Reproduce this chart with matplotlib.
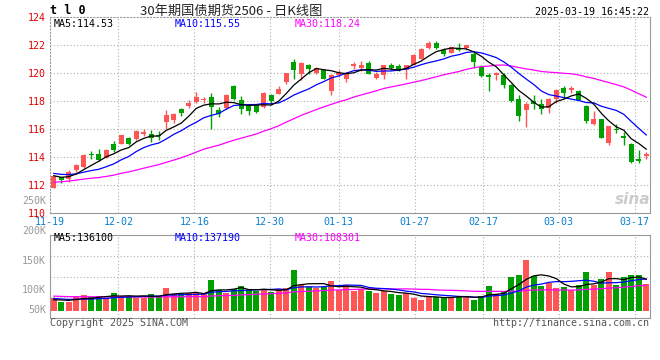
import matplotlib
import numpy as np

matplotlib.use("Agg")
import matplotlib.pyplot as plt

plt.rcParams["font.family"] = ["DejaVu Sans Mono"]

# daily K data, 2024-11-19 .. 2025-03-19
opens = [111.80, 112.57, 112.40, 113.05, 113.29, 114.21, 114.24, 113.93, 114.95, 114.95,
         115.38, 115.26, 115.65, 115.67, 115.55, 116.48, 116.62, 117.40, 117.64, 117.90,
         118.10, 118.29, 117.38, 117.50, 119.07, 118.10, 117.64, 117.69, 117.57, 118.45,
         118.52, 119.36, 120.79, 119.95, 120.60, 120.00, 120.19, 118.69, 119.83, 119.60,
         120.50, 120.38, 120.74, 119.67, 119.83, 120.55, 120.48, 120.19, 120.60, 121.02,
         121.81, 122.17, 121.67, 121.43, 121.76, 121.81, 121.38, 120.45, 119.83, 119.83,
         119.88, 119.12, 118.17, 117.33, 118.00, 117.81, 117.50, 118.12, 118.95, 118.81,
         118.71, 117.64, 116.33, 116.69, 115.00, 116.02, 115.48, 114.95, 113.88, 114.07]
highs = [112.65, 112.60, 113.05, 113.52, 114.24, 114.45, 114.60, 114.55, 115.12, 115.60,
         115.43, 115.90, 116.02, 115.90, 115.83, 117.33, 117.17, 117.52, 118.05, 118.67,
         118.29, 118.60, 117.57, 118.48, 119.17, 118.33, 117.74, 117.81, 118.64, 118.52,
         119.05, 120.02, 121.02, 120.76, 120.67, 120.43, 120.31, 119.90, 120.19, 120.07,
         120.79, 120.86, 120.86, 120.07, 120.55, 120.74, 120.62, 120.60, 121.33, 121.76,
         122.26, 122.29, 121.81, 121.88, 122.17, 122.02, 121.50, 120.60, 119.98, 120.05,
         120.00, 119.24, 118.45, 117.93, 118.45, 118.12, 118.21, 118.83, 119.05, 119.07,
         118.76, 117.69, 117.26, 116.74, 116.21, 116.38, 115.79, 115.00, 114.50, 114.36]
lows = [111.78, 112.17, 112.21, 112.93, 113.21, 113.88, 113.69, 113.90, 114.36, 114.90,
        114.88, 115.20, 115.50, 115.07, 115.19, 116.02, 116.43, 116.93, 117.50, 117.85,
        117.86, 115.98, 116.86, 117.45, 118.05, 117.10, 117.02, 117.14, 117.50, 117.81,
        118.48, 119.24, 119.55, 119.48, 119.90, 119.95, 119.55, 118.40, 119.71, 119.36,
        120.31, 120.14, 119.90, 119.55, 119.55, 120.24, 120.14, 119.60, 120.57, 121.00,
        121.69, 121.69, 121.21, 121.40, 121.57, 121.62, 120.38, 119.71, 118.71, 119.48,
        118.93, 117.93, 116.55, 116.14, 117.45, 117.10, 117.14, 117.88, 118.21, 118.60,
        118.05, 116.43, 116.30, 115.36, 114.83, 115.71, 114.88, 113.60, 113.57, 113.83]
closes = [112.62, 112.33, 112.93, 113.45, 114.17, 114.12, 113.81, 114.52, 114.52, 115.55,
          114.95, 115.88, 115.75, 115.38, 115.48, 117.02, 117.10, 117.14, 117.83, 118.28,
          118.17, 117.57, 117.10, 118.45, 118.12, 117.45, 117.31, 117.21, 118.57, 118.00,
          118.88, 120.02, 120.19, 120.74, 120.26, 120.38, 119.60, 119.83, 120.02, 119.95,
          120.67, 120.60, 119.95, 119.90, 120.55, 120.38, 120.24, 120.60, 121.31, 121.74,
          122.17, 121.81, 121.33, 121.86, 121.62, 121.98, 120.77, 119.76, 119.74, 119.98,
          119.12, 118.02, 116.90, 117.76, 117.76, 117.40, 118.12, 118.76, 118.60, 118.93,
          118.10, 116.55, 116.69, 115.38, 116.21, 115.93, 115.38, 113.62, 113.69, 114.19]
# volume, thousand lots
volumes = [53.3, 38.9, 38.9, 63.4, 67.7, 57.6, 63.4, 53.3, 77.8, 64.8,
           63.4, 56.2, 56.2, 72.0, 63.4, 99.4, 70.6, 70.6, 77.8, 77.8,
           72.0, 132.5, 89.3, 77.8, 93.6, 106.6, 89.3, 85.0, 89.3, 82.1,
           95.0, 99.4, 175.7, 110.9, 100.8, 96.5, 100.8, 129.6, 89.3, 110.9,
           86.4, 92.2, 86.4, 77.8, 86.4, 72.0, 67.7, 74.9, 56.2, 46.1,
           60.5, 60.5, 60.5, 57.6, 60.5, 64.8, 46.1, 64.8, 106.6, 72.0,
           85.0, 145.4, 154.1, 218.9, 149.8, 106.6, 121.0, 96.5, 102.2, 89.3,
           110.9, 167.0, 110.9, 136.8, 167.0, 110.9, 145.4, 154.1, 154.1, 115.2]

# sessions before the window, only feed the moving averages
prior_closes = [111.5, 111.3, 111.6, 111.9, 112.2, 112.4, 112.1, 111.8, 111.6, 111.9,
                112.0, 111.7, 111.5, 111.8, 112.1, 112.3, 112.0, 112.2, 111.9, 112.0,
                113.0, 113.1, 112.9, 113.0, 112.95, 112.9, 112.7, 112.5, 112.6]
prior_volumes = [75, 70, 72, 66, 64, 70, 68, 65, 71, 69, 66, 67, 70, 64, 68, 66, 69, 67, 65, 68,
                 62, 58, 57, 60, 58, 42, 48, 45, 47]

tick_index = [0, 9, 19, 29, 38, 48, 57, 67, 77]
tick_labels = ["11-19", "12-02", "12-16", "12-30", "01-13", "01-27", "02-17", "03-03", "03-17"]
price_ticks = [110, 112, 114, 116, 118, 120, 122, 124]
vol_axis_labels = ["250K", "200K", "150K", "100K", "50K"]

W, H = 660, 360
RED = "#ff5555"
GREEN = "#00a000"
GRID = "#b0b0b0"
EDGE = "#999999"
DATE_BLUE = "#0a80cc"
DOT = (0, (1, 2))


def fx(x: float) -> float:
    return x / W


def fy(y: float) -> float:
    return 1 - y / H


def moving_average(history, values, n):
    s = np.concatenate([np.asarray(history, float), np.asarray(values, float)])
    out = np.convolve(s, np.ones(n) / n, mode="valid")
    return out[-len(values):]


o = np.array(opens)
c = np.array(closes)
n = len(c)
x = np.arange(n)
colors = np.where(c >= o, RED, GREEN)
# grid columns sit on a slightly different scale than the candles
tick_x = [-0.5 + i * n / (n - 1) for i in tick_index]

fig = plt.figure(figsize=(W / 100, H / 100), dpi=100)
ax = fig.add_axes([fx(50), fy(213), 600 / W, 196 / H])
vax = fig.add_axes([fx(50), fy(318.3), 600 / W, 83.6 / H])

# price panel
for p in price_ticks[1:-1]:
    ax.axhline(p, color=GRID, lw=0.8, ls=DOT, zorder=0)
for t in tick_x[1:]:
    ax.axvline(t, color=GRID, lw=0.8, ls=DOT, zorder=0)
ax.vlines(x, lows, highs, colors=colors, lw=1.0, zorder=2)
body_lo = np.minimum(o, c)
body_h = np.maximum(np.abs(c - o), 0.05)
ax.bar(x, body_h, bottom=body_lo, width=0.68, color=colors, lw=0, zorder=3)
ax.plot(x, moving_average(prior_closes, closes, 30), color="#ff00ff", lw=0.9, zorder=4)
ax.plot(x, moving_average(prior_closes, closes, 10), color="#0000ff", lw=0.9, zorder=4)
ax.plot(x, moving_average(prior_closes, closes, 5), color="black", lw=0.9, zorder=4)
ax.set_xlim(-0.5, n - 0.5)
ax.set_ylim(110, 124)
ax.set_yticks(price_ticks)
ax.set_yticklabels([str(p) for p in price_ticks])
ax.tick_params(axis="y", length=0, pad=3, labelsize=7.2, labelcolor="#e60000")
ax.set_xticks(tick_x)
ax.set_xticklabels(tick_labels)
ax.tick_params(axis="x", length=0, pad=3, labelsize=7.2, labelcolor=DATE_BLUE)
for side in ("top", "left"):
    ax.spines[side].set_color(EDGE)
    ax.spines[side].set_linestyle(DOT)
for side in ("bottom", "right"):
    ax.spines[side].set_color(EDGE)

# volume panel
vlo, vhi = -32.8, 328.3
for f in (0.25, 0.5, 0.75):
    vax.axhline(vlo + f * (vhi - vlo), color=GRID, lw=0.8, ls=DOT, zorder=0)
for t in tick_x[1:]:
    vax.axvline(t, color=GRID, lw=0.8, ls=DOT, zorder=0)
vax.bar(x, volumes, width=0.8, color=colors, lw=0, zorder=2)
vax.plot(x, moving_average(prior_volumes, volumes, 30), color="#ff00ff", lw=0.9, zorder=3)
vax.plot(x, moving_average(prior_volumes, volumes, 10), color="#0000ff", lw=0.9, zorder=3)
vax.plot(x, moving_average(prior_volumes, volumes, 5), color="black", lw=0.9, zorder=3)
vax.set_xlim(-0.5, n - 0.5)
vax.set_ylim(vlo, vhi)
vax.set_yticks([])
vax.set_xticks(tick_x)
vax.set_xticklabels([])
vax.tick_params(length=0)
for sp in vax.spines.values():
    sp.set_color(EDGE)

# header and labels
fig.text(fx(50), fy(11), "t l 0", fontsize=8.5, fontweight="bold", va="center", ha="left")
fig.text(fx(231), fy(11), "30年期国债期货2506 - 日K线图", fontsize=9.5, color="#222222",
         family=["Noto Sans CJK SC", "DejaVu Sans"], va="center", ha="center")
fig.text(fx(649), fy(11.7), "2025-03-19 16:45:22", fontsize=7.2, va="center", ha="right")

fig.text(fx(54), fy(24), "MA5:114.53", fontsize=7.2, color="black", va="center")
fig.text(fx(175), fy(24), "MA10:115.55", fontsize=7.2, color="#0000ff", va="center")
fig.text(fx(295), fy(24), "MA30:118.24", fontsize=7.2, color="#ff00ff", va="center")
fig.text(fx(54), fy(238.3), "MA5:136100", fontsize=7.2, color="black", va="center")
fig.text(fx(175), fy(238.3), "MA10:137190", fontsize=7.2, color="#0000ff", va="center")
fig.text(fx(295), fy(238.3), "MA30:108301", fontsize=7.2, color="#ff00ff", va="center")

for lab, yy in zip(vol_axis_labels, [200.7, 230.7, 260.7, 290.3, 310.0]):
    fig.text(fx(46), fy(yy), lab, fontsize=7.2, color="#999999", va="center", ha="right")

fig.text(fx(50), fy(323.5), "Copyright 2025 SINA.COM", fontsize=7.2, color="#555555", va="center")
fig.text(fx(649), fy(323.5), "http://finance.sina.com.cn", fontsize=7.2, color="#555555",
         va="center", ha="right")
fig.text(fx(633), fy(199), "sina", fontsize=11, fontweight="bold", style="italic",
         color="#cccccc", family="DejaVu Sans", va="center", ha="center")

fig.savefig("out.png", dpi=100)
plt.close(fig)
